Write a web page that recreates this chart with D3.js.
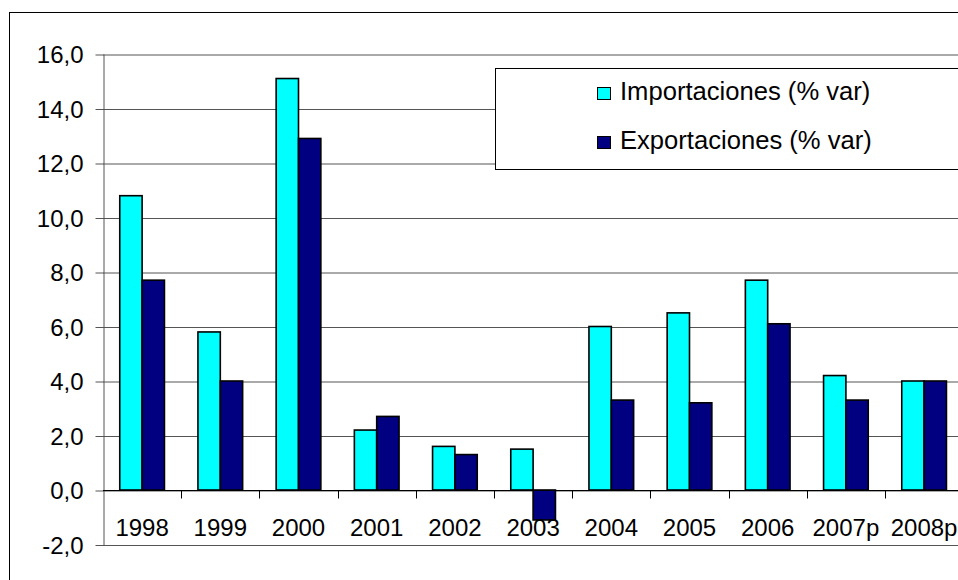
<!DOCTYPE html>
<html><head><meta charset="utf-8">
<script src="https://cdn.jsdelivr.net/npm/d3@7"></script>
<style>
html,body{margin:0;padding:0;background:#fff;overflow:hidden}
text{font-family:"Liberation Sans",Arial,sans-serif;fill:#000}
</style></head>
<body>
<svg id="chart" width="958" height="580"></svg>
<script>
const categories = ["1998","1999","2000","2001","2002","2003","2004","2005","2006","2007p","2008p"];
const importaciones = [10.8, 5.8, 15.1, 2.2, 1.6, 1.5, 6.0, 6.5, 7.7, 4.2, 4.0];
const exportaciones = [7.7, 4.0, 12.9, 2.7, 1.3, -1.1, 3.3, 3.2, 6.1, 3.3, 4.0];
const seriesNames = ["Importaciones (% var)", "Exportaciones (% var)"];
const seriesColors = ["#00FFFF", "#000080"];
const yTicks = [-2, 0, 2, 4, 6, 8, 10, 12, 14, 16];

const svg = d3.select("#chart");
const fs = 24;
const left = 103, step = 78.2;
const x = d3.scaleBand().domain(categories).range([left, left + step * categories.length]).padding(0);
const xs = d3.scaleBand().domain([0, 1]).range([0, x.bandwidth()]).paddingInner(0).paddingOuter(0.75);
const y = d3.scaleLinear().domain([-2, 16]).range([544.5, 54]);

// outer border
svg.append("rect").attr("x", 9.5).attr("y", 12.5).attr("width", 1000).attr("height", 600)
  .attr("fill", "#fff").attr("stroke", "#000").attr("stroke-width", 1);

// gridlines
const grid = svg.append("g").attr("transform", `translate(${left},0)`)
  .call(d3.axisLeft(y).tickValues(yTicks).tickSize(-(x.range()[1] - left)).tickFormat(""));
grid.select(".domain").remove();
grid.selectAll("line").attr("stroke", "#555").attr("stroke-width", 1)
  .attr("transform", "translate(0,0.5)");

// y axis
const yAxis = svg.append("g").attr("transform", `translate(${left + 0.5},0)`)
  .call(d3.axisLeft(y).tickValues(yTicks).tickSize(8).tickSizeOuter(0).tickPadding(12)
    .tickFormat(d => d.toFixed(1).replace(".", ",")));
yAxis.select(".domain").attr("stroke", "#555");
yAxis.selectAll(".tick line").attr("stroke", "#555").attr("transform", "translate(0,0.5)");
yAxis.selectAll("text").style("font-size", fs + "px").style("font-family", '"Liberation Sans",Arial,sans-serif').attr("dy", "0.36em");

// bars
const data = categories.map((c, i) => ({ c, vals: [importaciones[i], exportaciones[i]] }));
const groups = svg.append("g").selectAll("g").data(data).join("g")
  .attr("transform", d => `translate(${x(d.c)},0)`);
groups.selectAll("rect").data(d => d.vals.map((v, k) => ({ v, k }))).join("rect")
  .attr("x", d => xs(d.k))
  .attr("width", xs.bandwidth())
  .attr("y", d => y(Math.max(0, d.v)))
  .attr("height", d => Math.abs(y(d.v) - y(0)))
  .attr("fill", d => seriesColors[d.k])
  .attr("stroke", "#000").attr("stroke-width", 1.6);

// x axis line at zero with ticks
const zeroY = Math.round(y(0)) + 0.5;
svg.append("line").attr("x1", left).attr("x2", x.range()[1]).attr("y1", zeroY).attr("y2", zeroY)
  .attr("stroke", "#000").attr("stroke-width", 1);
const xAxis = svg.append("g").attr("transform", `translate(0,${zeroY})`)
  .call(d3.axisBottom(x).tickSize(0).tickPadding(0));
xAxis.select(".domain").remove();
xAxis.selectAll("text").style("font-size", fs + "px").style("font-family", '"Liberation Sans",Arial,sans-serif')
  .attr("y", 45).attr("dy", 0);
svg.append("g").selectAll("line").data(categories.slice(1).concat(["end"])).join("line")
  .attr("x1", (d, i) => Math.round(left + step * (i + 1)) + 0.5)
  .attr("x2", (d, i) => Math.round(left + step * (i + 1)) + 0.5)
  .attr("y1", zeroY).attr("y2", zeroY + 8).attr("stroke", "#000");

// legend
const lg = svg.append("g");
lg.append("rect").attr("x", 495.5).attr("y", 68.5).attr("width", 600).attr("height", 101)
  .attr("fill", "#fff").attr("stroke", "#000").attr("stroke-width", 1);
const items = lg.selectAll("g.item").data(seriesNames).join("g").attr("class", "item")
  .attr("transform", (d, i) => `translate(0,${i * 49})`);
items.append("rect").attr("x", 597.5).attr("y", 87.5).attr("width", 13).attr("height", 12)
  .attr("fill", (d, i) => seriesColors[i]).attr("stroke", "#000").attr("stroke-width", 1);
items.append("text").attr("x", 620).attr("y", 99.5).style("font-size", "25.6px").text(d => d);
</script>
</body></html>
